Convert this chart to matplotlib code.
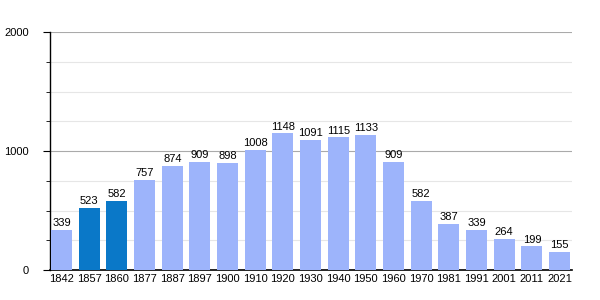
import matplotlib
matplotlib.use("Agg")
import matplotlib.pyplot as plt
from matplotlib.ticker import MultipleLocator

plt.rcParams['font.family'] = ['Liberation Sans', 'DejaVu Sans']

years = ['1842', '1857', '1860', '1877', '1887', '1897', '1900', '1910', '1920', '1930',
         '1940', '1950', '1960', '1970', '1981', '1991', '2001', '2011', '2021']
population = [339, 523, 582, 757, 874, 909, 898, 1008, 1148, 1091,
              1115, 1133, 909, 582, 387, 339, 264, 199, 155]
highlight = ['1857', '1860']

LIGHT = '#9db4fb'
DARK = '#0a78c8'

fig = plt.figure(figsize=(6, 3), dpi=100)
ax = fig.add_axes([0.0833, 0.1, 0.87, 0.793])

colors = [DARK if y in highlight else LIGHT for y in years]
x = range(len(years))
ax.bar(x, population, width=0.76, color=colors, zorder=3)

for i, v in enumerate(population):
    ax.text(i, v + 15, str(v), ha='center', va='bottom', fontsize=8, zorder=4)

ax.set_xlim(-0.42, len(years) - 0.55)
ax.set_ylim(0, 2000)
ax.set_xticks(list(x))
ax.set_xticklabels(years, fontsize=8)
ax.tick_params(axis='x', length=0, pad=3)

ax.yaxis.set_major_locator(MultipleLocator(1000))
ax.yaxis.set_minor_locator(MultipleLocator(250))
ax.tick_params(axis='y', which='major', length=5, labelsize=8, pad=10)
ax.tick_params(axis='y', which='minor', length=3)
ax.grid(axis='y', which='major', color='#aaaaaa', lw=0.8, zorder=0)
ax.grid(axis='y', which='minor', color='#e6e6e6', lw=0.8, zorder=0)

for s in ['top', 'right']:
    ax.spines[s].set_visible(False)
ax.spines['left'].set_linewidth(1)
ax.spines['bottom'].set_linewidth(1.2)

fig.savefig('out.png', dpi=100)
